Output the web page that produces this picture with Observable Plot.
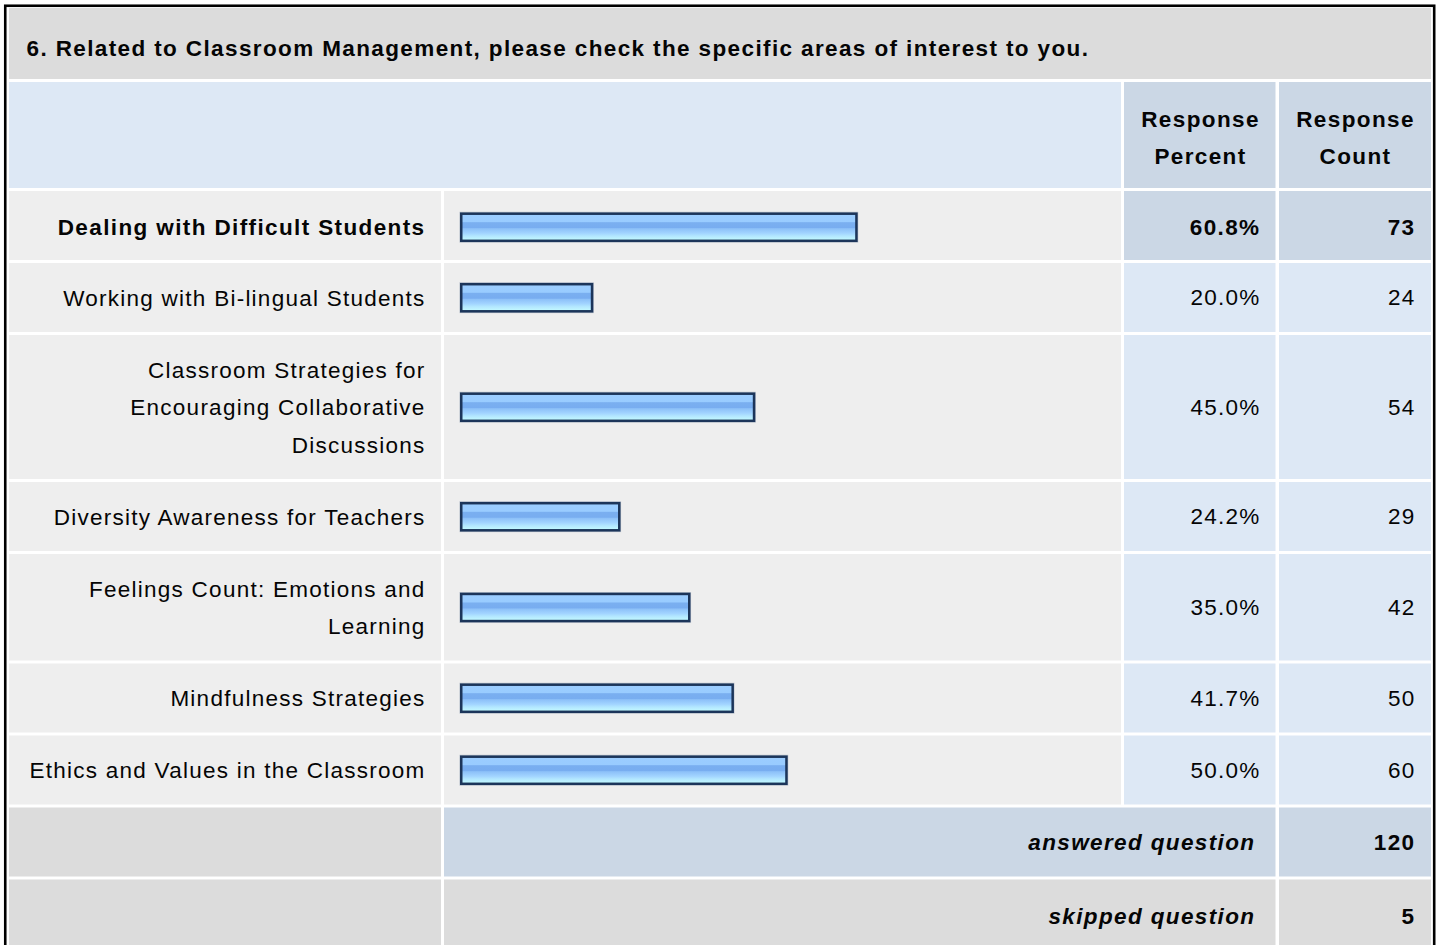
<!DOCTYPE html>
<html><head><meta charset="utf-8">
<script src="https://cdn.jsdelivr.net/npm/d3@7"></script>
<script src="https://cdn.jsdelivr.net/npm/@observablehq/plot@0.6"></script>
<style>html,body{margin:0;padding:0;background:#fff;overflow:hidden}</style>
</head><body><div id="chart"></div>
<script>
// ---- data ----
const title = "6. Related to Classroom Management, please check the specific areas of interest to you.";
const categories = [
  "Dealing with Difficult Students",
  "Working with Bi-lingual Students",
  "Classroom Strategies for Encouraging Collaborative Discussions",
  "Diversity Awareness for Teachers",
  "Feelings Count: Emotions and Learning",
  "Mindfulness Strategies",
  "Ethics and Values in the Classroom"
];
const percents = [60.8, 20.0, 45.0, 24.2, 35.0, 41.7, 50.0];
const counts = [73, 24, 54, 29, 42, 50, 60];
const columnHeaders = ["Response\nPercent", "Response\nCount"];
const summaryLabels = ["answered question", "skipped question"];
const summaryValues = [120, 5];

// ---- style / layout ----
const FONT = 'Arial, "Liberation Sans", sans-serif';
const FS = 22.5, LS = 1.25, LSB = 1.38, LH = 37.5;
const X0 = 461.85, PXPCT = 6.48;
const xs = Plot.scale({x: {domain: [0, 100], range: [X0, X0 + 100 * PXPCT]}});
const px = v => xs.invert(v);

const ctx = document.createElement("canvas").getContext("2d");
ctx.font = `${FS}px ${FONT}`;
const measure = s => ctx.measureText(s).width + s.length * LS;
function wrap(s, max) {
  const words = s.split(" "), lines = [];
  let cur = "";
  for (const w of words) {
    const t = cur ? cur + " " + w : w;
    if (cur && measure(t) > max) { lines.push(cur); cur = w; } else cur = t;
  }
  lines.push(cur);
  return lines;
}

const maxPct = d3.max(percents);
const rows = categories.map((c, i) => ({category: c, pct: percents[i], count: counts[i], lines: wrap(c, 404), max: percents[i] === maxPct}));
let yPos = 191;
for (const r of rows) {
  const h = 34.5 + LH * r.lines.length;
  r.top = yPos; r.bottom = yPos + h - 3; r.cy = (r.top + r.bottom) / 2 + (r.max ? 1.5 : 0); yPos += h;
}
const summary = summaryLabels.map((l, i) => {
  const t = yPos; yPos += 72;
  return {label: l, value: summaryValues[i], top: t, bottom: i === 1 ? 960 : t + 69, cy: t + 35 + (i === 1 ? 1.5 : 0)};
});

const C = {c1: [9, 441], c2: [444, 1121], c3: [1124, 1275.5], c4: [1279, 1431]};
const GRAY = "#dcdcdc", LIGHT = "#eeeeee", BLUE = "#dde8f5", BLUE2 = "#cbd7e5";
const cells = [
  {x1: 9, x2: 1431, y1: 8, y2: 79, fill: GRAY},
  {x1: 9, x2: 1121, y1: 82, y2: 188, fill: BLUE},
  {x1: C.c3[0], x2: C.c3[1], y1: 82, y2: 188, fill: BLUE2},
  {x1: C.c4[0], x2: C.c4[1], y1: 82, y2: 188, fill: BLUE2}
];
for (const r of rows) {
  cells.push({x1: C.c1[0], x2: C.c1[1], y1: r.top, y2: r.bottom, fill: LIGHT});
  cells.push({x1: C.c2[0], x2: C.c2[1], y1: r.top, y2: r.bottom, fill: LIGHT});
  cells.push({x1: C.c3[0], x2: C.c3[1], y1: r.top, y2: r.bottom, fill: r.max ? BLUE2 : BLUE});
  cells.push({x1: C.c4[0], x2: C.c4[1], y1: r.top, y2: r.bottom, fill: r.max ? BLUE2 : BLUE});
}
summary.forEach((s, i) => {
  cells.push({x1: C.c1[0], x2: C.c1[1], y1: s.top, y2: s.bottom, fill: GRAY});
  cells.push({x1: C.c2[0], x2: C.c3[1], y1: s.top, y2: s.bottom, fill: i === 0 ? BLUE2 : GRAY});
  cells.push({x1: C.c4[0], x2: C.c4[1], y1: s.top, y2: s.bottom, fill: i === 0 ? BLUE2 : GRAY});
});

const T = {fontFamily: FONT, fontSize: FS, fill: "#050505"};
const TB = {...T, fontWeight: "bold"};
const headerData = columnHeaders.map((h, i) => ({text: h, x: i === 0 ? 1200 : 1355}));

const chart = Plot.plot({
  width: 1440, height: 945,
  margin: 0, marginTop: 0, marginRight: 0, marginBottom: 0, marginLeft: 0,
  x: {domain: [0, 100], range: [X0, X0 + 100 * PXPCT], axis: null},
  y: {type: "identity", axis: null},
  color: {type: "identity"},
  style: {fontFamily: FONT, letterSpacing: LS + "px", background: "#fff", overflow: "visible"},
  marks: [
    Plot.rect([0], {x1: () => px(5.25), x2: () => px(1434.2), y1: () => 5.75, y2: () => 990, fill: "none", stroke: "#000", strokeWidth: 2.6}),
    Plot.rect(cells, {x1: d => px(d.x1), x2: d => px(d.x2), y1: "y1", y2: "y2", fill: "fill"}),
    // bar shadow
    Plot.rect(rows, {x1: () => 0, x2: "pct", y1: d => d.cy - 15.2, y2: d => d.cy + 15.6, insetLeft: -2.4, insetRight: -2.4, fill: "#8d9bb0", fillOpacity: 0.55}),
    // bars
    Plot.rect(rows, {x1: () => 0, x2: "pct", y1: d => d.cy - 13.3, y2: d => d.cy + 13.8, insetLeft: -0.6, insetRight: -0.6, fill: "url(#barGrad)", stroke: "#1c355a", strokeWidth: 2.5}),
    // title
    Plot.text([title], {...TB, x: () => px(26), y: () => 48, text: d => d, textAnchor: "start"}),
    // column headers
    Plot.text(headerData, {...TB, x: d => px(d.x), y: () => 138.5, dy: -5, text: "text", textAnchor: "middle", lineHeight: 37 / FS}),
    // labels
    Plot.text(rows.filter(d => d.max), {...TB, x: () => px(425), y: "cy", dy: -4.5, text: d => d.lines.join("\n"), textAnchor: "end", lineHeight: LH / FS}),
    Plot.text(rows.filter(d => !d.max), {...T, x: () => px(425), y: "cy", dy: -4.5, text: d => d.lines.join("\n"), textAnchor: "end", lineHeight: LH / FS}),
    // percents & counts
    Plot.text(rows.filter(d => d.max), {...TB, x: () => px(1260), y: "cy", text: d => d.pct.toFixed(1) + "%", textAnchor: "end"}),
    Plot.text(rows.filter(d => !d.max), {...T, x: () => px(1260), y: "cy", text: d => d.pct.toFixed(1) + "%", textAnchor: "end"}),
    Plot.text(rows.filter(d => d.max), {...TB, x: () => px(1415), y: "cy", text: d => String(d.count), textAnchor: "end"}),
    Plot.text(rows.filter(d => !d.max), {...T, x: () => px(1415), y: "cy", text: d => String(d.count), textAnchor: "end"}),
    // summary
    Plot.text(summary, {...TB, x: () => px(1255), y: "cy", text: "label", textAnchor: "end", fontStyle: "italic"}),
    Plot.text(summary, {...TB, x: () => px(1415), y: "cy", text: d => String(d.value), textAnchor: "end"})
  ]
});

// bold text slightly wider tracking
chart.querySelectorAll('g[font-weight="bold"]').forEach(g => g.style.letterSpacing = LSB + "px");

// gradient definition for the bars
const NS = "http://www.w3.org/2000/svg";
const defs = document.createElementNS(NS, "defs");
const grad = document.createElementNS(NS, "linearGradient");
grad.setAttribute("id", "barGrad");
grad.setAttribute("x1", "0"); grad.setAttribute("y1", "0"); grad.setAttribute("x2", "0"); grad.setAttribute("y2", "1");
[[0, "#9ccdff"], [0.3, "#99ccff"], [0.33, "#7aaff0"], [0.52, "#78adf0"], [0.55, "#8cc0f8"], [0.72, "#a2d4ff"], [0.82, "#b2e6ff"], [1, "#c6fdff"]]
  .forEach(([o, c]) => { const s = document.createElementNS(NS, "stop"); s.setAttribute("offset", o); s.setAttribute("stop-color", c); grad.appendChild(s); });
defs.appendChild(grad);
chart.insertBefore(defs, chart.firstChild);
document.getElementById("chart").appendChild(chart);
</script>
</body></html>
